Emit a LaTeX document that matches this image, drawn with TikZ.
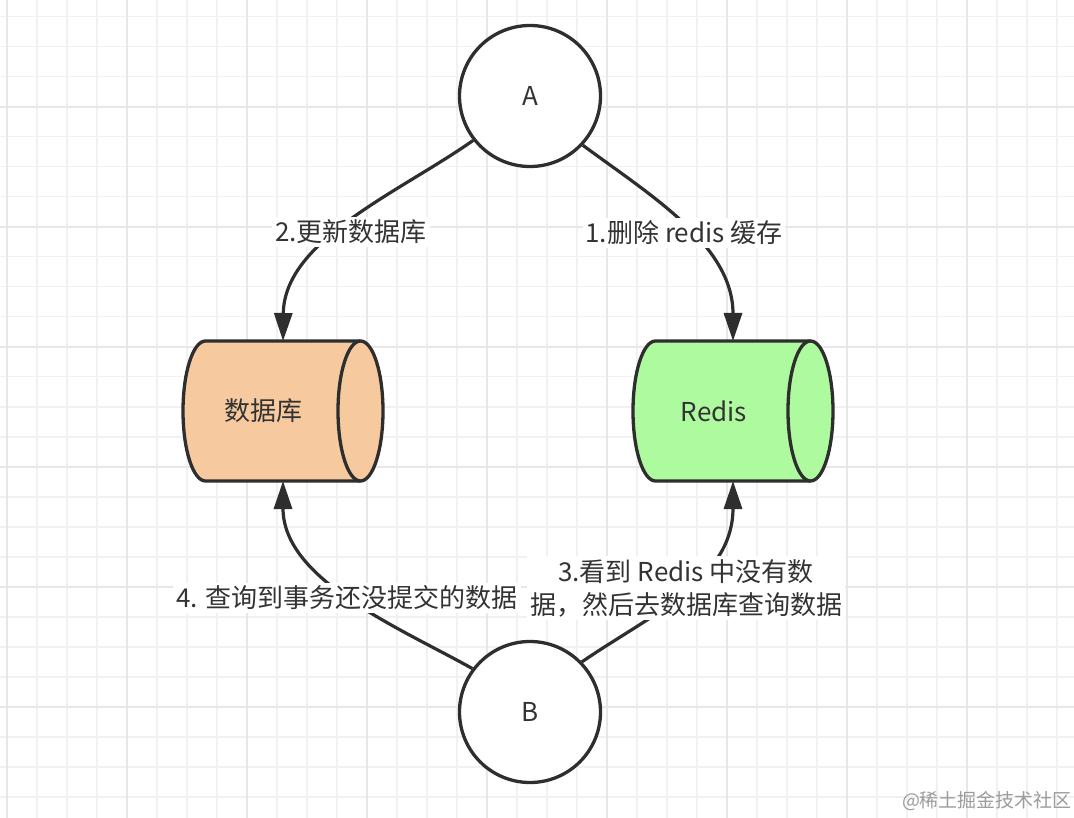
\documentclass[tikz,border=0pt]{standalone}
\usepackage{fontspec}
\setmainfont{Noto Sans CJK SC}
\usetikzlibrary{arrows.meta,calc}
\definecolor{txt}{HTML}{333333}
\definecolor{ink}{HTML}{2E2E2E}
\definecolor{dbfill}{HTML}{F6C99E}
\definecolor{rdfill}{HTML}{AEFB9F}
\definecolor{gmin}{HTML}{F1F1F1}
\definecolor{gmaj}{HTML}{E7E7E7}
\definecolor{wm}{HTML}{9C9C9C}
\tikzset{
  gridminor/.style={gmin, line width=1.6pt},
  gridmajor/.style={gmaj, line width=2pt},
  circ/.style={circle, draw=ink, fill=white, line width=3.3pt, minimum size=141pt, inner sep=0pt, text=txt, font=\fontsize{26}{30}\selectfont},
  cylbox/.style={rectangle, minimum width=200pt, minimum height=140pt, inner sep=0pt, outer sep=0pt},
  cylline/.style={draw=ink, line width=3.3pt, line join=round},
  txtnode/.style={text=txt, font=\fontsize{26}{30}\selectfont, inner sep=0pt},
  lbl/.style={fill=white, text=txt, font=\fontsize{26}{33}\selectfont, inner sep=3pt, align=center},
  conn/.style={draw=ink, line width=3.2pt, -{Triangle[length=28pt, width=18pt]}},
}
\begin{document}
\begin{tikzpicture}[x=1pt, y=-1pt]
\useasboundingbox (0,0) rectangle (1074,818);
\fill[white] (0,0) rectangle (1074,818);
% grid
\foreach \i in {0,...,35} \draw[gridminor] (6.7+30*\i,0) -- (6.7+30*\i,818);
\foreach \j in {0,...,26} \draw[gridminor] (0,16.7+30*\j) -- (1074,16.7+30*\j);
\foreach \i in {0,...,8} \draw[gridmajor] (6.7+120*\i,0) -- (6.7+120*\i,818);
\foreach \j in {0,...,5} \draw[gridmajor] (0,106.7+120*\j) -- (1074,106.7+120*\j);

% cylinders
\node[cylbox] (db) at (283,411) {};
\node[cylbox] (rd) at (733,411) {};
\foreach \n/\c in {db/dbfill, rd/rdfill} {
  \path[cylline, fill=\c]
    ($(\n.north west)+(22.5,0)$) -- ($(\n.north east)+(-22.5,0)$)
    .. controls +(12.43,0) and +(0,-38.66) .. (\n.east)
    .. controls +(0,38.66) and +(12.43,0) .. ($(\n.south east)+(-22.5,0)$)
    -- ($(\n.south west)+(22.5,0)$)
    .. controls +(-12.43,0) and +(0,38.66) .. (\n.west)
    .. controls +(0,-38.66) and +(-12.43,0) .. ($(\n.north west)+(22.5,0)$) -- cycle;
  \draw[cylline]
    ($(\n.north east)+(-22.5,0)$)
    .. controls +(-12.43,0) and +(0,-38.66) .. ($(\n.east)+(-45,0)$)
    .. controls +(0,38.66) and +(-12.43,0) .. ($(\n.south east)+(-22.5,0)$);
}
\node[txtnode] (dbt) at ([xshift=-20pt]db.center) {数据库};
\node[txtnode] (rdt) at ([xshift=-19pt]rd.center) {Redis};

% circles
\node[circ] (A) at (530,96) {A};
\node[circ] (B) at (530,712) {B};

% connectors
\draw[conn] (A.218) .. controls (400,192) and (284,240) .. (db.north);
\draw[conn] (A.-43) .. controls (650,195) and (733,245) .. (rd.north);
\draw[conn] (B.143) .. controls (400,628) and (283,580) .. (db.south);
\draw[conn] (B.44) .. controls (650,615) and (733,580) .. (rd.south);

% labels
\node[lbl] (l2) at (351,232) {2.更新数据库};
\node[lbl] (l1) at (684,233) {1.删除\ redis\ 缓存};
\node[lbl] (l4) at (347,598) {4. 查询到事务还没提交的数据};
\node[lbl] (l3) at (686,588) {3.看到\ Redis\ 中没有数\\据，然后去数据库查询数据};

% watermark
\node[text=wm, font=\fontsize{19}{22}\selectfont, inner sep=0pt] (wm) at (987,801) {@稀土掘金技术社区};
\end{tikzpicture}
\end{document}
